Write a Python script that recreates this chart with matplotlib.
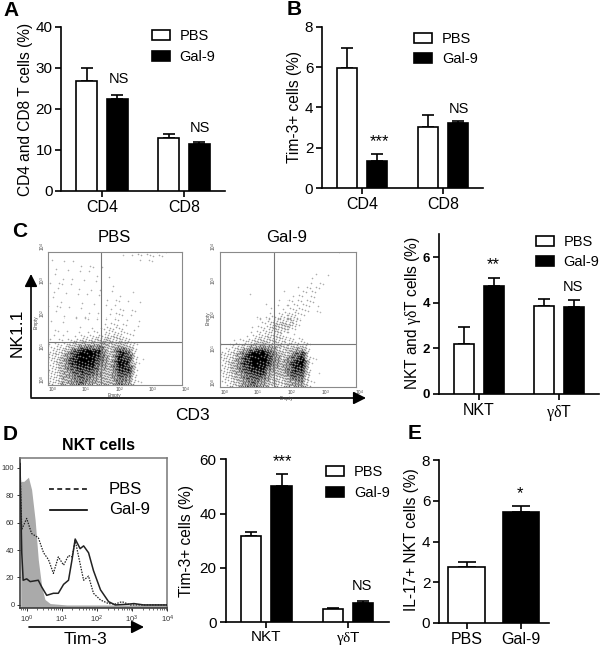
import numpy as np
import matplotlib
matplotlib.use("Agg")
import matplotlib.pyplot as plt
from matplotlib.patches import Patch

plt.rcParams['font.family'] = ['Liberation Sans', 'DejaVu Sans']
plt.rcParams['mathtext.fontset'] = 'custom'
plt.rcParams['mathtext.rm'] = 'Liberation Sans'
plt.rcParams['mathtext.it'] = 'Liberation Serif'
plt.rcParams['mathtext.bf'] = 'Liberation Sans:bold'

W, H = 600, 648
GD = r'$\gamma\delta$T'

# ---------- bar data ----------
series = ['PBS', 'Gal-9']
a_cats = ['CD4', 'CD8']
a_pbs = [26.7, 12.9]; a_gal = [22.5, 11.5]
a_pbs_top = [29.9, 13.8]; a_gal_top = [23.5, 11.9]
a_ticks = [0, 10, 20, 30, 40]

b_cats = ['CD4', 'CD8']
b_pbs = [5.95, 3.05]; b_gal = [1.35, 3.22]
b_pbs_top = [6.95, 3.6]; b_gal_top = [1.7, 3.3]
b_ticks = [0, 2, 4, 6, 8]

c_cats = ['NKT', GD]
c_pbs = [2.2, 3.85]; c_gal = [4.75, 3.8]
c_pbs_top = [2.93, 4.15]; c_gal_top = [5.08, 4.12]
c_ticks = [0, 2, 4, 6]

d_cats = ['NKT', GD]
d_pbs = [31.8, 5.0]; d_gal = [50.3, 7.0]
d_pbs_top = [33.2, 5.4]; d_gal_top = [54.5, 8.0]
d_ticks = [0, 20, 40, 60]

e_cats = ['PBS', 'Gal-9']
e_vals = [2.75, 5.45]
e_tops = [2.97, 5.75]
e_ticks = [0, 2, 4, 6, 8]

# ---------- flow cytometry density, digit = darkness read per cell ----------
flow_pbs = ["10100000122210",
            "11111100000000",
            "11111110000000",
            "11111111000000",
            "11111111100000",
            "11111111110000",
            "11111112110000",
            "11111122110000",
            "11112233210000",
            "22344554310000",
            "34799848710000",
            "35899759810000",
            "35788658810000",
            "35676557610000"]
flow_gal = ["00000000000010",
            "00000000000100",
            "00000000011100",
            "00000001121000",
            "00010011221000",
            "00001112221000",
            "00001223210000",
            "00012454100000",
            "00123431000000",
            "12345443310000",
            "34799746810000",
            "35899758910000",
            "35788558810000",
            "24676446610000"]
flow_decades = [0, 1, 2, 3, 4]

# ---------- histogram (x in log10 units, y in % of max) ----------
grey_x = [-.17, -.08, .05, .14, .24, .33, .43, .52, .67, 1.14, 4.0]
grey_y = [90, 90, 93, 84, 62, 33, 13, 4, 1, 0, 0]
gal_x = [-.19, -.14, -.10, 0, .10, .33, .43, .57, .76, .90, 1.05, 1.19, 1.29, 1.38,
         1.52, 1.62, 1.76, 1.90, 2.10, 2.33, 2.52, 2.86, 3.05, 3.33, 4.0]
gal_y = [103, 38, 18, 19, 17, 18, 13, 7, 8.5, 8.5, 15, 18, 33, 48,
         41, 43, 38, 25, 11, 2.4, 0, 0.5, 1, 0, 0]
pbs_x = [-.19, -.14, 0, .14, .33, .48, .62, .76, .90, 1.05, 1.19, 1.29, 1.38,
         1.52, 1.62, 1.76, 1.90, 2.10, 2.33, 2.52, 2.71, 2.95, 4.0]
pbs_y = [103, 55, 63, 52, 49, 38, 33, 23, 35, 29, 36, 35, 47,
         30, 18, 21, 8.5, 3.6, 1, 0.7, 2.4, 0, 0]
hist_yticks = [0, 20, 40, 60, 80, 100]
hist_xticks = [0, 1, 2, 3, 4]

fig = plt.figure(figsize=(W / 100, H / 100), dpi=100)


def box(x0, y0, x1, y1, **kw):
    """Axes from pixel edges (y counted from the top)."""
    return fig.add_axes([x0 / W, 1 - y1 / H, (x1 - x0) / W, (y1 - y0) / H], **kw)


def style(ax, ticks, top, xt, xl, ysize=11, yweight='normal', xsize=11.5, xpad=2):
    for s in ('top', 'right'):
        ax.spines[s].set_visible(False)
    for s in ('left', 'bottom'):
        ax.spines[s].set_linewidth(1.2)
    ax.set_ylim(0, top)
    ax.set_yticks(ticks)
    ax.set_xticks(xt)
    ax.set_xticklabels(xl, fontsize=xsize)
    ax.tick_params(axis='both', length=4.5, width=1.2, pad=2)
    ax.tick_params(axis='x', pad=xpad)
    ax.tick_params(axis='y', labelsize=ysize)
    for t in ax.get_yticklabels():
        t.set_fontweight(yweight)
    ax.patch.set_alpha(0)


def bars(ax, pos, vals, tops, face):
    ax.bar(pos, vals, width=BW, color=face, edgecolor='black', linewidth=1.2, zorder=3)
    for p, v, t in zip(pos, vals, tops):
        ax.errorbar(p, v, yerr=[[0], [t - v]], color='black', elinewidth=1.2,
                    capsize=4, capthick=1.2, zorder=2)


BW = 0.25
OFF = 0.187


def grouped(px, cats, pbs, gal, ptop, gtop, ticks, top, legend_xy, row_px, **kw):
    x0, y0, x1, y1, t0, step = px
    ax = box(x0, y0, x1, y1)
    ax.set_xlim((x0 - t0) / step, (x1 - t0) / step)
    pos = np.arange(len(cats))
    bars(ax, pos - OFF, pbs, ptop, 'white')
    bars(ax, pos + OFF, gal, gtop, 'black')
    style(ax, ticks, top, pos, cats, **kw)
    hs = [Patch(facecolor='white', edgecolor='black', linewidth=1.2),
          Patch(facecolor='black', edgecolor='black', linewidth=1.2)]
    fs = 10.5
    fpx = fs * 100 / 72
    ax.legend(hs, series, loc='upper left', frameon=False, fontsize=fs, borderpad=0,
              borderaxespad=0, handlelength=18 / fpx, handleheight=9.5 / fpx,
              handletextpad=10 / fpx, labelspacing=(row_px - fpx * 0.85) / fpx,
              bbox_to_anchor=(legend_xy[0] / W, 1 - legend_xy[1] / H),
              bbox_transform=fig.transFigure)
    return ax


grouped((61.5, 27, 225, 190.7, 102, 82), a_cats, a_pbs, a_gal, a_pbs_top, a_gal_top,
        a_ticks, 40, (151.7, 29), 19.3)
grouped((322.3, 26.7, 483, 188, 362.3, 80.7), b_cats, b_pbs, b_gal, b_pbs_top, b_gal_top,
        b_ticks, 8, (414, 32), 18.7)
grouped((439, 234.3, 599, 394, 479, 79.7), c_cats, c_pbs, c_gal, c_pbs_top, c_gal_top,
        c_ticks, 7, (535.7, 235), 18.7, ysize=9.5, yweight='bold')
grouped((225.7, 459.3, 389, 622.3, 266.3, 81.7), d_cats, d_pbs, d_gal, d_pbs_top, d_gal_top,
        d_ticks, 60, (326, 465), 19.3, xsize=11, xpad=1)

# panel E
axE = box(439.3, 460, 549, 623)
axE.set_xlim((439.3 - 466.7) / 54.3, (549 - 466.7) / 54.3)
e_pos = np.arange(len(e_cats))
axE.bar(e_pos[0], e_vals[0], width=0.68, color='white', edgecolor='black', linewidth=1.2, zorder=3)
axE.bar(e_pos[1], e_vals[1], width=0.68, color='black', edgecolor='black', linewidth=1.2, zorder=3)
for p, v, t in zip(e_pos, e_vals, e_tops):
    axE.errorbar(p, v, yerr=[[0], [t - v]], color='black', elinewidth=1.2,
                 capsize=6.5, capthick=1.2, zorder=2)
style(axE, e_ticks, 8, e_pos, e_cats)


def dithered(table, w, h):
    """Turn the read density table into fine dots with a fixed ordered-dither mask."""
    grid = np.array([[int(c) for c in row] for row in table], dtype=float) / 9.0
    rows, cols = grid.shape
    xs = (np.arange(w) + .5) / w * cols - .5
    ys = (np.arange(h) + .5) / h * rows - .5
    across = np.array([np.interp(xs, np.arange(cols), r) for r in grid])
    dens = np.array([np.interp(ys, np.arange(rows), c) for c in across.T]).T
    xx, yy = np.meshgrid(np.arange(w), np.arange(h))
    mask = (52.9829189 * ((0.06711056 * xx + 0.00583715 * yy) % 1)) % 1
    dots = (dens ** 1.9 * 0.95 > mask).astype(float)
    soft = np.pad(dots, 1, mode='edge')
    blur = (4 * dots + soft[:-2, 1:-1] + soft[2:, 1:-1] + soft[1:-1, :-2] + soft[1:-1, 2:]) / 8
    return blur * (0.45 + 0.55 * np.sqrt(dens))


def flow(px, table, vx, hy):
    x0, y0, x1, y1 = px
    ax = box(x0, y0, x1, y1)
    ax.imshow(dithered(table, int(x1 - x0), int(y1 - y0)), cmap='gray_r', vmin=0, vmax=1,
              extent=(0, 4, 0, 4), aspect='auto', interpolation='nearest', zorder=1)
    ax.set_xticks([]); ax.set_yticks([])
    for s in ax.spines.values():
        s.set_color('#8a8a8a'); s.set_linewidth(0.8)
    ax.axvline(4 * (vx - x0) / (x1 - x0), color='#777777', lw=0.8, zorder=2)
    ax.axhline(4 * (y1 - hy) / (y1 - y0), color='#777777', lw=0.8, zorder=2)
    return ax


PX_FLOW1 = (48, 251.7, 182, 385)
PX_FLOW2 = (220, 251.7, 355.7, 387.3)
flow(PX_FLOW1, flow_pbs, 101.3, 342.3)
flow(PX_FLOW2, flow_gal, 273.7, 344.3)

# histogram
axH = box(20, 458, 167.3, 607.7)
axH.set_xscale('log')
axH.set_xlim(10 ** -0.19, 10 ** 4)
axH.set_ylim(-2, 107)
axH.fill_between(10 ** np.array(grey_x), grey_y, -2, color='#aaaaaa', lw=0, zorder=1)
axH.plot(10 ** np.array(pbs_x), pbs_y, color='#222222', lw=0.9, ls=(0, (1.2, 1.0)), zorder=3)
axH.plot(10 ** np.array(gal_x), gal_y, color='#222222', lw=1.1, zorder=4)
axH.set_yticks(hist_yticks)
axH.set_xticks([10.0 ** d for d in hist_xticks])
axH.set_xticklabels([f'$10^{{{d}}}$' for d in hist_xticks])
axH.tick_params(axis='both', labelsize=5.5, length=2.5, width=0.7, pad=1.5, colors='#333333')
axH.tick_params(axis='x', which='minor', length=1.5, width=0.5, colors='#333333')
for s in axH.spines.values():
    s.set_color('#777777'); s.set_linewidth(1.1)
axH.spines['left'].set_color('#333333')
axH.spines['bottom'].set_color('#333333')

# overlay in pixel coordinates: text and arrows
ov = fig.add_axes([0, 0, 1, 1], zorder=10)
ov.set_xlim(0, W); ov.set_ylim(H, 0); ov.axis('off')


def T(x, y, s, size=10, **kw):
    kw.setdefault('ha', 'center'); kw.setdefault('va', 'center')
    ov.text(x, y, s, fontsize=size, **kw)


def arrow(x0, y0, x1, y1):
    ov.annotate('', xy=(x1, y1), xytext=(x0, y0),
                arrowprops=dict(arrowstyle='-|>,head_length=0.75,head_width=0.38',
                                color='black', lw=1.2, shrinkA=0, shrinkB=0))


for x, y, s in [(3, 16, 'A'), (287, 15, 'B'), (12, 236.7, 'C'), (3, 440, 'D'), (408, 439, 'E')]:
    T(x, y, s, 15, weight='bold', ha='left', va='baseline')

# y-axis titles
T(26, 109, 'CD4 and CD8 T cells (%)', 11.2, rotation=90)
T(295, 107, 'Tim-3+ cells (%)', 11.2, rotation=90)
T(413, 313, 'NKT and ' + GD + ' cells (%)', 11.2, rotation=90)
T(187, 541, 'Tim-3+ cells (%)', 11.2, rotation=90)
T(411.7, 540, 'IL-17+ NKT cells (%)', 11.2, rotation=90)

# significance marks
for x, y, s in [(118.7, 79, 'NS'), (200, 128, 'NS'), (459, 109, 'NS'), (572.7, 287, 'NS'),
                (361.7, 586, 'NS')]:
    T(x, y, s, 10.5)
for x, y, s in [(379, 142, '***'), (493.3, 265, '**'), (282.3, 462, '***'), (520, 494, '*')]:
    T(x, y, s, 12)

# flow labels
T(114, 238, 'PBS', 12)
T(287, 237, 'Gal-9', 12)
T(17, 333, 'NK1.1', 12.5, rotation=90)
T(192, 415.7, 'CD3', 12.5)
arrow(31, 397, 31, 274)
arrow(31, 398, 366, 398)
for (x0, y0, x1, y1), ex, ey, rx in [(PX_FLOW1, 36, 322, 43), (PX_FLOW2, 208, 318, 214)]:
    for d in flow_decades:
        T(x0 + d * (x1 - x0) / 4 + 4, y1 + 5, f'$10^{{{d}}}$', 3.4, color='#444444')
        T(rx, y1 - d * (y1 - y0) / 4 - 5, f'$10^{{{d}}}$', 3.4, color='#444444', rotation=90)
    T(ex, ey, 'Empty', 3.4, color='#444444', rotation=90)
    T((x0 + x1) / 2 - 1, y1 + 11, 'Empty', 3.4, color='#444444')

# histogram labels
T(98, 445, 'NKT cells', 11.5, weight='bold')
T(85, 640, 'Tim-3', 12.5)
arrow(29, 627, 144, 627)
ov.plot([49, 87], [489, 489], color='black', lw=1.1, ls=(0, (3.2, 2.2)))
ov.plot([50, 87], [510, 510], color='black', lw=1.2)
T(109, 489, 'PBS', 12, ha='left')
T(109, 510, 'Gal-9', 12, ha='left')

fig.savefig('out.png', dpi=100)
